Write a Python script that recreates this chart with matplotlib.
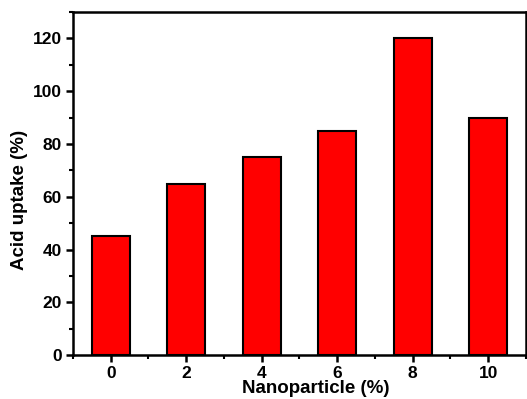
import numpy as np
import matplotlib
matplotlib.use("Agg")
import matplotlib.pyplot as plt
from matplotlib.ticker import MultipleLocator

# data
nanoparticle = [0, 2, 4, 6, 8, 10]
acid_uptake = [45, 65, 75, 85, 120, 90]
y_ticks = [0, 20, 40, 60, 80, 100, 120]

plt.rcParams["font.family"] = ["Liberation Sans", "DejaVu Sans"]
plt.rcParams["font.weight"] = "bold"

fig = plt.figure(figsize=(5.27, 3.99), dpi=100)
ax = fig.add_axes([0.1385, 0.110, 0.8595, 0.860])

ax.bar(nanoparticle, acid_uptake, width=1.0, color="#ff0000",
       edgecolor="black", linewidth=1.5, zorder=2)

ax.set_xlim(-1, 11)
ax.set_ylim(0, 130)
ax.set_xticks(nanoparticle)
ax.set_yticks(y_ticks)
ax.xaxis.set_minor_locator(MultipleLocator(1))
ax.yaxis.set_minor_locator(MultipleLocator(10))

for s in ax.spines.values():
    s.set_linewidth(1.8)

ax.tick_params(which="major", direction="out", length=5, width=1.8,
               labelsize=12.5, pad=3)
ax.tick_params(which="minor", direction="out", length=3, width=1.5)
for lab in ax.get_xticklabels() + ax.get_yticklabels():
    lab.set_fontweight("bold")

ax.set_xlabel("Nanoparticle (%)", fontsize=13.5, fontweight="bold")
ax.set_ylabel("Acid uptake (%)", fontsize=13.5, fontweight="bold")
ax.xaxis.set_label_coords(0.535, -0.072)
ax.yaxis.set_label_coords(-0.10, 0.452)

fig.savefig("out.png", dpi=100)
